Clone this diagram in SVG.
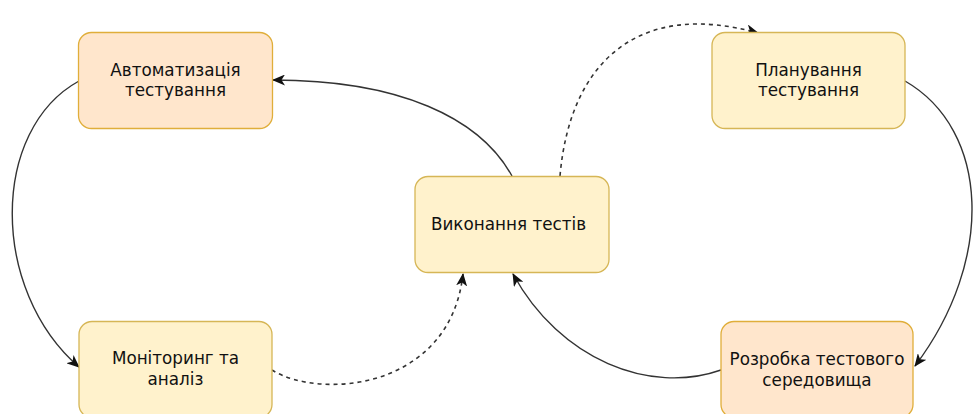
<svg xmlns="http://www.w3.org/2000/svg" width="975" height="414" viewBox="0 0 975 414">
  <style>
    .box { stroke-width: 1.3; }
    .yellow { fill: #fff2cc; stroke: #d6b656; }
    .orange { fill: #ffe6cc; stroke: #e0ae3a; }
    .label { font-family: "DejaVu Sans", "Liberation Sans", sans-serif; font-size: 16.8px; fill: #111; text-anchor: middle; }
    .edge { fill: none; stroke: #333; stroke-width: 1.4; }
    .dashed { stroke-dasharray: 4 4; stroke-width: 1.6; }
  </style>
  <defs>
    <marker id="arrow" viewBox="0 0 13 11" refX="12" refY="5.5" markerWidth="13" markerHeight="11" markerUnits="userSpaceOnUse" orient="auto">
      <path d="M0,0 L13,5.5 L0,11 L3.5,5.5 z" fill="#111"/>
    </marker>
  </defs>

  <g id="connectors">
    <!-- Виконання тестів -> Автоматизація тестування -->
    <path class="edge" d="M512,176 C480,118 400,80 273,80" marker-end="url(#arrow)"/>
    <!-- Виконання тестів -> Планування тестування (dashed) -->
    <path class="edge dashed" d="M560,176 C570,60 640,0 758,33" marker-end="url(#arrow)"/>
    <!-- Планування тестування -> Розробка тестового середовища -->
    <path class="edge" d="M905,81 C990,130 995,260 915,366" marker-end="url(#arrow)"/>
    <!-- Розробка тестового середовища -> Виконання тестів -->
    <path class="edge" d="M721,370 C650,395 560,360 513,274" marker-end="url(#arrow)"/>
    <!-- Автоматизація тестування -> Моніторинг та аналіз -->
    <path class="edge" d="M79,81 C-10,130 -10,290 79,367" marker-end="url(#arrow)"/>
    <!-- Моніторинг та аналіз -> Виконання тестів (dashed) -->
    <path class="edge dashed" d="M272,370 C320,400 450,390 463,274" marker-end="url(#arrow)"/>
  </g>

  <g id="node-automation">
    <rect class="box orange" x="78.5" y="32.5" width="194" height="96" rx="13"/>
    <text class="label" x="175.5" y="76">Автоматизація</text>
    <text class="label" x="175.5" y="96">тестування</text>
  </g>

  <g id="node-planning">
    <rect class="box yellow" x="712" y="32.5" width="193" height="96" rx="13"/>
    <text class="label" x="808.5" y="76">Планування</text>
    <text class="label" x="808.5" y="96">тестування</text>
  </g>

  <g id="node-execution">
    <rect class="box yellow" x="415" y="176.5" width="194" height="96" rx="13"/>
    <text class="label" x="508.5" y="230">Виконання тестів</text>
  </g>

  <g id="node-monitoring">
    <rect class="box yellow" x="79" y="321.5" width="193" height="96" rx="13"/>
    <text class="label" x="175.5" y="364">Моніторинг та</text>
    <text class="label" x="175.5" y="385">аналіз</text>
  </g>

  <g id="node-environment">
    <rect class="box orange" x="721" y="321.5" width="192" height="96" rx="13"/>
    <text class="label" x="817" y="365">Розробка тестового</text>
    <text class="label" x="817" y="386">середовища</text>
  </g>
</svg>
